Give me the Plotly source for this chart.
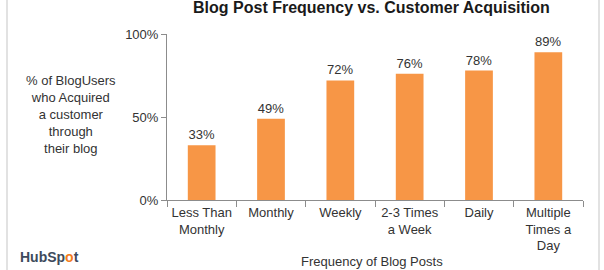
import plotly.graph_objects as go

categories = ["Less Than<br>Monthly", "Monthly", "Weekly", "2-3 Times<br>a Week", "Daily", "Multiple<br>Times a<br>Day"]
values = [0.33, 0.49, 0.72, 0.76, 0.78, 0.89]
value_labels = ["33%", "49%", "72%", "76%", "78%", "89%"]
y_ticks = [0, 0.5, 1.0]
y_tick_labels = ["0%", "50%", "100%"]

FONT = "Liberation Sans, Arial, sans-serif"
TXT = "#333333"
AX = "#8c8c8c"

fig = go.Figure()
fig.add_trace(go.Bar(
    x=categories, y=values, text=value_labels, textposition="outside",
    textfont=dict(family=FONT, size=13, color=TXT),
    marker=dict(color="#F79646", line=dict(width=0)),
    width=0.4, cliponaxis=False, showlegend=False,
))

fig.update_layout(
    width=604, height=270,
    margin=dict(l=167, r=21, t=34, b=70),
    paper_bgcolor="white", plot_bgcolor="white",
    font=dict(family=FONT, color=TXT, size=13),
    title=dict(text="<b>Blog Post Frequency vs. Customer Acquisition</b>",
               x=0.615, xanchor="center", y=1.0, yanchor="top",
               pad=dict(t=2, b=0),
               font=dict(family=FONT, size=16, color="#1a1a1a")),
    bargap=0.6,
)
fig.update_xaxes(
    showline=True, linecolor=AX, linewidth=1, ticks="outside", tickson="boundaries",
    ticklen=6, tickcolor=AX, tickangle=0, automargin=False,
    tickfont=dict(family=FONT, size=13, color=TXT),
    showgrid=False,
)
fig.update_yaxes(
    range=[0, 1], tickvals=y_ticks, ticktext=y_tick_labels, automargin=False,
    showline=True, linecolor=AX, linewidth=1, ticks="outside", ticklen=5, tickcolor=AX,
    tickfont=dict(family=FONT, size=13, color=TXT), showgrid=False, zeroline=False,
)

fig.add_annotation(
    text="% of BlogUsers<br>who Acquired<br>a customer<br>through<br>their blog",
    xref="paper", yref="paper", x=(71 - 167) / 416, y=(200 - 114) / 166,
    xanchor="center", yanchor="middle", showarrow=False, align="center",
    font=dict(family=FONT, size=13, color=TXT),
)
fig.add_annotation(
    text="Frequency of Blog Posts",
    xref="paper", yref="paper", x=(372 - 167) / 416, y=(200 - 261) / 166,
    xanchor="center", yanchor="middle", showarrow=False,
    font=dict(family=FONT, size=13, color=TXT),
)
fig.add_annotation(
    text="<b>HubSp<span style='color:#F47B20'>o</span>t</b>",
    xref="paper", yref="paper", x=(18 - 167) / 416, y=(200 - 257) / 166,
    xanchor="left", yanchor="middle", showarrow=False,
    font=dict(family=FONT, size=14, color="#3d4a5c"),
)
for px in (7, 599):
    fig.add_shape(type="line", xref="paper", yref="paper",
                  x0=(px - 167) / 416, x1=(px - 167) / 416,
                  y0=(200 - 270) / 166, y1=(200 - 0) / 166,
                  line=dict(color="#d9d9d9", width=1.5))

fig.write_html("out.html")
